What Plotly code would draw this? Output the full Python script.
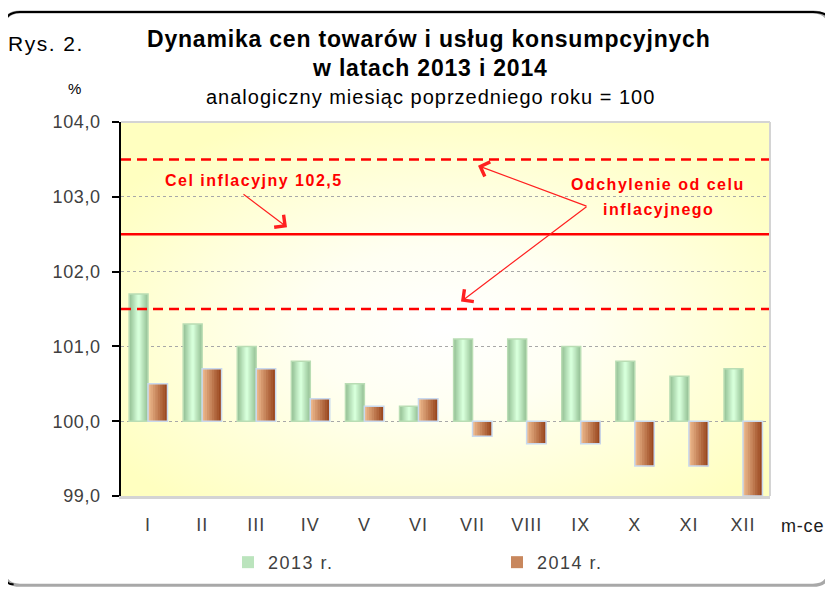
import base64
import plotly.graph_objects as go

# ---------------- data ----------------
months = ["I", "II", "III", "IV", "V", "VI", "VII", "VIII", "IX", "X", "XI", "XII"]
cpi_2013 = [101.7, 101.3, 101.0, 100.8, 100.5, 100.2, 101.1, 101.1, 101.0, 100.8, 100.6, 100.7]
cpi_2014 = [100.5, 100.7, 100.7, 100.3, 100.2, 100.3, 99.8, 99.7, 99.7, 99.4, 99.4, 99.0]
base_level = 100.0
inflation_target = 102.5
tolerance = 1.0
y_ticks = [99, 100, 101, 102, 103, 104]
series_names = ["2013 r.", "2014 r."]

# ---------------- layout geometry (pixels, page coordinates) ----------------
PAGE_W, PAGE_H = 833, 593
OFF = 8  # default body margin of the html page
W, H = PAGE_W - OFF, PAGE_H - OFF
L, R, T, B = 121, 770, 122, 499


def xp(px):
    return (px - L) / (R - L)


def yp(py):
    return (B - py) / (B - T)


def hex2rgb(h):
    h = h.lstrip("#")
    return tuple(int(h[i:i + 2], 16) for i in (0, 2, 4))


def mix(c1, c2, t):
    a, b = hex2rgb(c1), hex2rgb(c2)
    return "rgb(%d,%d,%d)" % tuple(round(a[i] + (b[i] - a[i]) * t) for i in range(3))


def sp(text, ls):
    return '<span style="letter-spacing:%spx">%s</span>' % (ls, text)


FONT = "Liberation Sans, Arial, sans-serif"

x_idx = list(range(len(months)))
d2013 = [v - base_level for v in cpi_2013]
d2014 = [v - base_level for v in cpi_2014]

fig = go.Figure()

n = 8
wg = 0.35
wo = 0.36
# green bars: symmetric gradient (dark edges, light centre)
for k in range(n):
    wk = wg * (1 - k / n)
    fig.add_trace(go.Bar(
        x=x_idx, y=d2013, base=base_level, width=wk, offset=-wg + (wg - wk) / 2,
        marker=dict(color=mix("#96C196", "#D6FFDA", k / (n - 1)), line=dict(width=0)),
        name=sp(series_names[0], 1.5), showlegend=(k == 4), legend="legend", hoverinfo="skip"))
fig.add_trace(go.Bar(
    x=x_idx, y=d2013, base=base_level, width=wg, offset=-wg,
    marker=dict(color="rgba(0,0,0,0)", line=dict(color="#B9DDB4", width=1.5)),
    showlegend=False, hoverinfo="skip"))
# orange bars: left light -> right dark
for k in range(n):
    wk = wo * (1 - k / n)
    fig.add_trace(go.Bar(
        x=x_idx, y=d2014, base=base_level, width=wk, offset=wo - wk,
        marker=dict(color=mix("#EBB68A", "#9A4820", k / (n - 1)), line=dict(width=0)),
        name=sp(series_names[1], 1.5), showlegend=(k == 3), legend="legend2", hoverinfo="skip"))
fig.add_trace(go.Bar(
    x=x_idx, y=d2014, base=base_level, width=wo, offset=0,
    marker=dict(color="rgba(0,0,0,0)", line=dict(color="#C9D9EE", width=1.5)),
    showlegend=False, hoverinfo="skip"))

# ---------------- shapes ----------------
shapes = []
for yv, dash in [(inflation_target + tolerance, "10px,6px"),
                 (inflation_target, "solid"),
                 (inflation_target - tolerance, "10px,6px")]:
    shapes.append(dict(type="line", xref="paper", yref="y", x0=0, x1=1, y0=yv, y1=yv,
                       line=dict(color="#FF0000", width=2.5, dash=dash), layer="above"))
# plot-area border (top/right)
shapes.append(dict(type="line", xref="paper", yref="paper", x0=0, x1=1, y0=1, y1=1,
                   line=dict(color="#D4D4D4", width=2), layer="above"))
shapes.append(dict(type="line", xref="paper", yref="paper", x0=1, x1=1, y0=0, y1=1,
                   line=dict(color="#D4D4D4", width=2), layer="above"))


def P(x, y):
    return "%.5f,%.5f" % (xp(x), yp(y))


fx0, fy0, fx1, fy1, r = 4, 11, 829, 589, 16
full = ("M" + P(fx0 + r, fy0) + " L" + P(fx1 - r, fy0) + " Q" + P(fx1, fy0) + " " + P(fx1, fy0 + r) +
        " L" + P(fx1, fy1 - r) + " Q" + P(fx1, fy1) + " " + P(fx1 - r, fy1) +
        " L" + P(fx0 + r, fy1) + " Q" + P(fx0, fy1) + " " + P(fx0, fy1 - r) +
        " L" + P(fx0, fy0 + r) + " Q" + P(fx0, fy0) + " " + P(fx0 + r, fy0) + " Z")
shapes.append(dict(type="path", xref="paper", yref="paper", path=full,
                   line=dict(color="#A8A8A8", width=3), layer="above"))
lefttop = ("M" + P(fx0 + r * 0.6, fy1 - 1) + " Q" + P(fx0, fy1) + " " + P(fx0, fy1 - r) +
           " L" + P(fx0, fy0 + r) + " Q" + P(fx0, fy0) + " " + P(fx0 + r, fy0) +
           " L" + P(fx1 - r, fy0) + " Q" + P(fx1, fy0) + " " + P(fx1, fy0 + r * 0.6))
shapes.append(dict(type="path", xref="paper", yref="paper", path=lefttop,
                   line=dict(color="#000000", width=2), layer="above"))

# ---------------- annotations ----------------
ann = []


def txt(text, x, y, size, color="#000000", bold=False, ls=0, xanchor="center"):
    t = ("<b>%s</b>" % text) if bold else text
    if ls:
        t = sp(t, ls)
    ann.append(dict(text=t, x=xp(x), y=yp(y),
                    xref="paper", yref="paper", showarrow=False, xanchor=xanchor,
                    yanchor="middle", font=dict(size=size, color=color, family=FONT)))


txt("Dynamika cen towarów i usług konsumpcyjnych", 429, 38, 23, bold=True, ls=0.8)
txt("w latach 2013 i 2014", 430, 68, 23, bold=True, ls=0.8)
txt("analogiczny miesiąc poprzedniego roku = 100", 430, 97, 20, ls=1)
txt("Rys. 2.", 46, 43, 21, ls=1.5)
txt("%", 74, 88, 15)
txt("m-ce", 802, 529, 18, color="#202020", ls=0.8)
txt("Cel inflacyjny 102,5", 254, 181, 16, color="#FF0000", bold=True, ls=1.5)
txt("Odchylenie od celu", 658, 185, 16, color="#FF0000", bold=True, ls=1.5)
txt("inflacyjnego", 658, 210, 16, color="#FF0000", bold=True, ls=1.5)


def arrow(hx, hy, tx, ty):
    ann.append(dict(x=xp(hx), y=yp(hy), xref="paper", yref="paper", ax=tx - hx, ay=ty - hy,
                    text="", showarrow=True, arrowhead=4, arrowsize=2.5, arrowwidth=1.2,
                    arrowcolor="#FF2020"))


arrow(287, 228, 242, 194)
arrow(478, 166, 588, 207)
arrow(461, 303, 588, 207)

# ---------------- background gradient ----------------
svg = ('<svg xmlns="http://www.w3.org/2000/svg" width="649" height="377" preserveAspectRatio="none">'
       '<defs><radialGradient id="g" cx="0.5" cy="0.55" r="0.62">'
       '<stop offset="0" stop-color="#FFFFFF"/><stop offset="0.35" stop-color="#FFFFF2"/>'
       '<stop offset="1" stop-color="#FFFFC0"/></radialGradient></defs>'
       '<rect width="649" height="377" fill="url(#g)"/></svg>')
src = "data:image/svg+xml;base64," + base64.b64encode(svg.encode()).decode()

y_ticktext = [sp(("%.1f" % v).replace(".", ","), 0.6) for v in y_ticks]
x_ticktext = [sp(m, 1) for m in months]

leg_common = dict(orientation="h", xanchor="left", yanchor="middle", itemwidth=30,
                  font=dict(size=18, color="#404040", family=FONT), bgcolor="rgba(0,0,0,0)")

fig.update_layout(
    width=W, height=H,
    margin=dict(l=L - OFF, r=PAGE_W - R, t=T - OFF, b=PAGE_H - B),
    paper_bgcolor="#FFFFFF", plot_bgcolor="#FFFFC4",
    barmode="overlay",
    font=dict(family=FONT, color="#404040"),
    shapes=shapes, annotations=ann,
    images=[dict(source=src, xref="paper", yref="paper", x=0, y=1, sizex=1, sizey=1,
                 sizing="stretch", layer="below", xanchor="left", yanchor="top")],
    legend=dict(x=xp(228), y=yp(566), **leg_common),
    legend2=dict(x=xp(497), y=yp(566), **leg_common),
    xaxis=dict(range=[-0.5, 11.5], tickvals=x_idx, ticktext=x_ticktext, showgrid=False,
               zeroline=False, showline=True, linecolor="#D4D4D4", linewidth=3,
               ticks="", tickfont=dict(size=18, color="#404040"), ticklabelstandoff=10,
               fixedrange=True),
    yaxis=dict(range=[y_ticks[0], y_ticks[-1]], tickvals=y_ticks, ticktext=y_ticktext,
               showgrid=True, gridcolor="#A8A8A8", griddash="dot", gridwidth=1,
               zeroline=False, showline=True, linecolor="#000000", linewidth=1.5,
               ticks="outside", ticklen=7, tickcolor="#000000", tickwidth=1.5,
               tickfont=dict(size=18, color="#404040"), ticklabelstandoff=8,
               fixedrange=True),
)

fig.write_html("out.html")
